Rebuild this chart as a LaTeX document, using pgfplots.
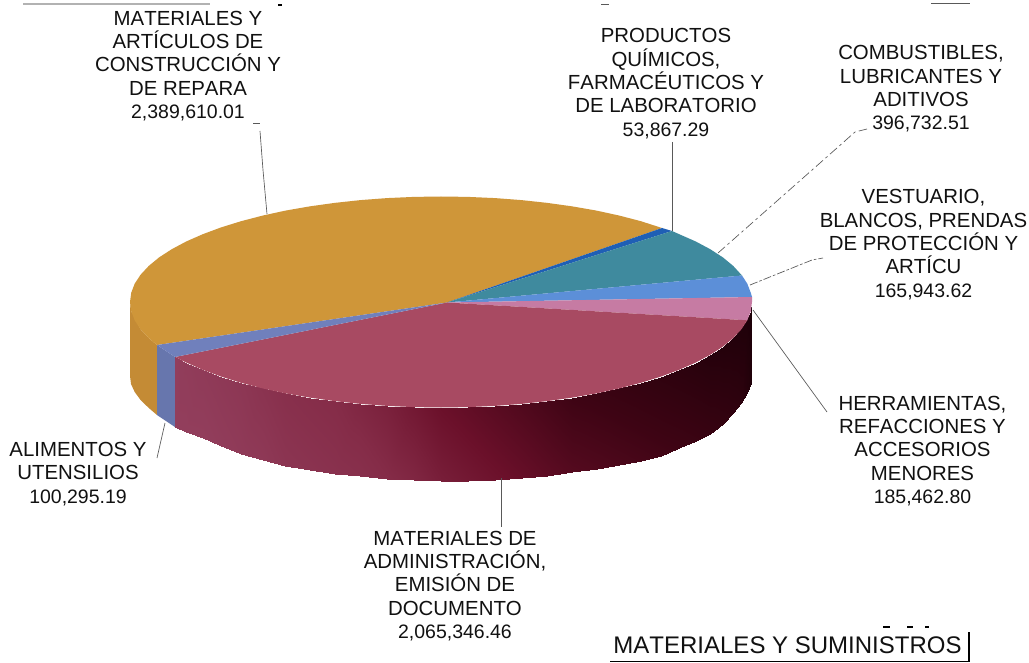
\documentclass[border=0pt]{standalone}
\usepackage{fontspec}
\setmainfont[Kerning=Off]{Liberation Sans}
\usepackage{pgfplots}
\pgfplotsset{compat=1.18}
\definecolor{org}{HTML}{CF9639}
\definecolor{orgs}{HTML}{C48B35}
\definecolor{dblue}{HTML}{1F5FB5}
\definecolor{teal2}{HTML}{3F8A9E}
\definecolor{blue2}{HTML}{5C8FD8}
\definecolor{pink2}{HTML}{C67BA3}
\definecolor{mar}{HTML}{A84A62}
\definecolor{peri}{HTML}{7080BC}
\definecolor{txt}{HTML}{111111}
\newcommand{\dg}{\fontsize{14.6}{17.5}\selectfont}
\tikzset{lab/.style={text=txt,align=center,inner sep=0pt,font=\fontsize{15.3}{17.5}\selectfont}}
\begin{document}
\begin{tikzpicture}
\begin{axis}[
  width=771.75pt,height=497.25pt,scale only axis,
  xmin=0,xmax=1029,ymin=0,ymax=663,y dir=reverse,
  hide axis,clip=false,
  colormap={side}{rgb255(0cm)=(146,62,92); rgb255(1cm)=(133,44,72); rgb255(2cm)=(107,16,42); rgb255(3cm)=(62,4,20); rgb255(4cm)=(28,0,8)},
  point meta min=0,point meta max=4
]
\addplot[draw=none,fill=white] coordinates {(0,0)(1029,0)(1029,663)(0,663)} -- cycle;
% sides
\addplot[draw=none,fill=orgs] coordinates {(130,302)(131.2,311.2)(140.6,329.3)(148.8,338.1)(157,345)(157,415)(148.8,408)(140.6,400)(134.7,392)(131,384)(130,376)} -- cycle;
\addplot[draw=none,fill=peri!92!black] coordinates {(157,345)(175,357)(175,427)(157,415)} -- cycle;
\addplot[surf,shader=interp,mesh/rows=31,mesh/cols=2,point meta=explicit] coordinates {
(175,357)[0] (175,427)[0]
(186.2,362.5)[0.1] (186.2,432)[0]
(202.8,369.8)[0.2] (202.8,438)[0]
(221.1,376.6)[0.3] (221.1,446)[0.1]
(241.1,382.8)[0.4] (241.1,454)[0.2]
(262.6,388.4)[0.6] (262.6,460)[0.3]
(285.5,393.4)[0.8] (285.5,466)[0.5]
(309.6,397.6)[0.9] (309.6,470)[0.6]
(334.6,401.1)[1.0] (334.6,473.5)[0.7]
(360.5,403.9)[1.2] (360.5,476)[0.8]
(387,405.9)[1.4] (387,478.5)[1.0]
(413.9,407.1)[1.7] (413.9,480)[1.2]
(441,407.5)[2.0] (441,481)[1.5]
(468.1,407.1)[2.2] (468.1,481)[1.7]
(495,405.9)[2.4] (495,480)[1.9]
(521.5,403.9)[2.6] (521.5,478)[2.1]
(547.4,401.1)[2.8] (547.4,475.5)[2.3]
(572.4,397.6)[3.0] (572.4,472)[2.5]
(596.5,393.4)[3.1] (596.5,468.5)[2.6]
(619.4,388.4)[3.2] (619.4,465)[2.7]
(640.9,382.8)[3.3] (640.9,461)[2.8]
(660.9,376.6)[3.4] (660.9,455.5)[2.9]
(679.2,369.8)[3.5] (679.2,448)[3.0]
(695.8,362.5)[3.6] (695.8,441)[3.1]
(710.3,354.75)[3.7] (710.3,434)[3.2]
(722.9,346.6)[3.75] (722.9,424)[3.3]
(733.2,338.1)[3.8] (733.2,413)[3.4]
(741.4,329.3)[3.85] (741.4,403)[3.5]
(747.3,320.3)[3.9] (747.3,393)[3.7]
(750.8,311.2)[4] (750.8,383)[3.9]
(752,302)[4] (752,376)[4]
};
% top
\addplot[draw=none,fill=org] coordinates {(447,302.5)(662,228)(640.9,221.2)(619.4,215.6)(596.5,210.6)(572.4,206.4)(547.4,202.9)(521.5,200.1)(495,198.1)(468.1,196.9)(441,196.5)(413.9,196.9)(387,198.1)(360.5,200.1)(334.6,202.9)(309.6,206.4)(285.5,210.6)(262.6,215.6)(241.1,221.2)(221.1,227.4)(202.8,234.2)(186.2,241.5)(171.7,249.25)(159.1,257.4)(148.8,265.9)(140.6,274.7)(134.7,283.7)(131.2,292.8)(130,302)(131.2,311.2)(134.7,320.3)(140.6,329.3)(148.8,338.1)(157,345)} -- cycle;
\addplot[draw=none,fill=dblue] coordinates {(447,302.5)(672,231)(662,228)} -- cycle;
\addplot[draw=none,fill=teal2] coordinates {(447,302.5)(742,275.5)(733.2,265.9)(722.9,257.4)(710.3,249.25)(695.8,241.5)(679.2,234.2)(672,231)} -- cycle;
\addplot[draw=none,fill=blue2] coordinates {(447,302.5)(752,297)(750.8,292.8)(747.3,283.7)(742,275.5)} -- cycle;
\addplot[draw=none,fill=pink2] coordinates {(447,302.5)(747.3,320.3)(750.8,311.2)(752,302)(752,297)} -- cycle;
\addplot[draw=none,fill=mar] coordinates {(447,302.5)(175,357)(186.2,362.5)(202.8,369.8)(221.1,376.6)(241.1,382.8)(262.6,388.4)(285.5,393.4)(309.6,397.6)(334.6,401.1)(360.5,403.9)(387,405.9)(413.9,407.1)(441,407.5)(468.1,407.1)(495,405.9)(521.5,403.9)(547.4,401.1)(572.4,397.6)(596.5,393.4)(619.4,388.4)(640.9,382.8)(660.9,376.6)(679.2,369.8)(695.8,362.5)(710.3,354.75)(722.9,346.6)(733.2,338.1)(741.4,329.3)(747.3,320.3)} -- cycle;
\addplot[draw=none,fill=peri] coordinates {(447,302.5)(157,345)(175,357)} -- cycle;
% leaders
\addplot[gray!70!black,line width=0.5pt] coordinates {(260,131)(263,170)(267,214)};
\addplot[gray!70!black,line width=0.6pt] coordinates {(253,123)(260,123)};
\addplot[gray!70!black,line width=0.5pt] coordinates {(672,142)(672,231)};
\addplot[gray!70!black,line width=0.5pt,dash pattern=on 7pt off 2.5pt on 2pt off 2.5pt] coordinates {(718,253)(820,163)(855,132)(867,129)};
\addplot[gray!70!black,line width=0.5pt,dash pattern=on 6pt off 1.5pt on 2pt off 1.5pt] coordinates {(750,285)(812,260)(823,258)};
\addplot[gray!70!black,line width=0.5pt] coordinates {(753,310)(827,412)};
\addplot[gray!70!black,line width=0.5pt] coordinates {(165,423)(157,458)};
\addplot[gray!70!black,line width=0.5pt] coordinates {(501,478)(501,527)};
% title box
\addplot[black,line width=1pt] coordinates {(610,661.5)(969,661.5)(969,632)};
\addplot[black,line width=0.8pt] coordinates {(883,627)(890,627)};
\addplot[black,line width=0.8pt] coordinates {(907,627)(913,627)};
\addplot[black,line width=0.8pt] coordinates {(925,627)(929,627)};
% top specks
\addplot[gray!60,line width=1.2pt] coordinates {(23,4)(210,4)};
\addplot[black,line width=0.8pt] coordinates {(278,5)(282,5)};
\addplot[gray!70!black,line width=0.8pt] coordinates {(601,4.5)(609,4.5)};
\addplot[gray!70!black,line width=0.9pt] coordinates {(931,3.5)(970,3.5)};
% labels
\node[lab] at (axis cs:188,66) {MATERIALES Y\\ARTÍCULOS DE\\CONSTRUCCIÓN Y\\DE REPARA\\{\dg 2,389,610.01}};
\node[lab] at (axis cs:666,83.5) {PRODUCTOS\\QUÍMICOS,\\FARMACÉUTICOS Y\\DE LABORATORIO\\{\dg 53,867.29}};
\node[lab] at (axis cs:921,89) {COMBUSTIBLES,\\LUBRICANTES Y\\ADITIVOS\\{\dg 396,732.51}};
\node[lab] at (axis cs:923.5,244.5) {VESTUARIO,\\BLANCOS, PRENDAS\\DE PROTECCIÓN Y\\ARTÍCU\\{\dg 165,943.62}};
\node[lab] at (axis cs:922.5,451) {HERRAMIENTAS,\\REFACCIONES Y\\ACCESORIOS\\MENORES\\{\dg 185,462.80}};
\node[lab] at (axis cs:78,474) {ALIMENTOS Y\\UTENSILIOS\\{\dg 100,295.19}};
\node[lab] at (axis cs:455,586) {MATERIALES DE\\ADMINISTRACIÓN,\\EMISIÓN DE\\DOCUMENTO\\{\dg 2,065,346.46}};
\node[lab] at (axis cs:787.5,645) {\fontsize{18}{20}\selectfont MATERIALES Y SUMINISTROS};
\end{axis}
\end{tikzpicture}
\end{document}
